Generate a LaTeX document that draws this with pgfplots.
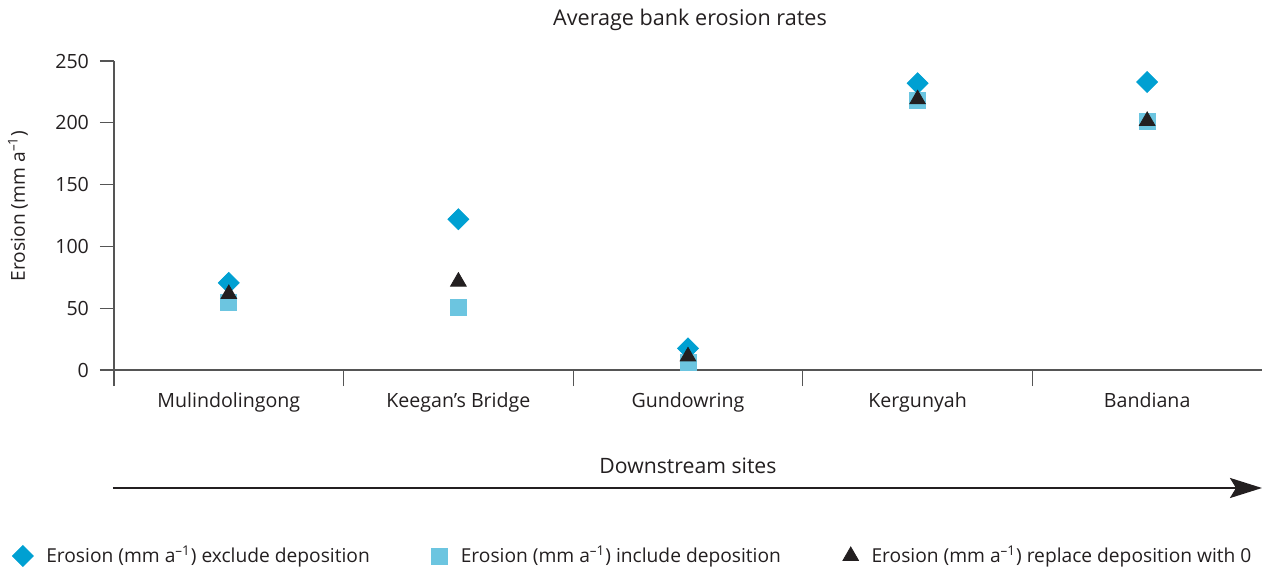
\documentclass[border=0pt]{standalone}
\usepackage{fontspec}
\setmainfont{Open Sans}
\usepackage{pgfplots}
\pgfplotsset{compat=1.18}
\usetikzlibrary{arrows.meta}
\definecolor{dia}{RGB}{0,160,210}
\definecolor{sq}{RGB}{108,197,224}
\definecolor{tri}{RGB}{35,31,32}
\definecolor{axc}{RGB}{85,85,85}
\definecolor{txt}{RGB}{35,31,32}
\begin{document}
\begin{tikzpicture}
\path (-57pt,-99pt) rectangle (578.5pt,185pt);
\begin{axis}[
  scale only axis,
  width=574pt, height=154.5pt,
  at={(0,0)}, anchor=south west,
  xmin=-0.5, xmax=4.5,
  ymin=0, ymax=250,
  axis lines=left,
  axis line style={-, axc, line width=0.6pt},
  xtick={0,1,2,3,4},
  xticklabels={Mulindolingong, Keegan’s Bridge, Gundowring, Kergunyah, Bandiana},
  minor xtick={-0.5,0.5,1.5,2.5,3.5},
  ytick={0,50,100,150,200,250},
  tick align=outside,
  major tick length=7pt,
  minor tick length=8pt,
  x tick style={draw=none},
  minor x tick style={draw=axc, line width=0.6pt},
  y tick style={axc, line width=0.6pt},
  tick label style={font=\fontsize{9.8}{12}\selectfont, text=txt},
  xticklabel style={anchor=base, yshift=-11.5pt},
  yticklabel style={anchor=east, xshift=-2pt},
  /pgf/number format/assume math mode=true,
  clip=false,
  legend columns=3,
  legend style={
    at={(axis description cs:-0.0889,-0.602)}, anchor=west,
    draw=none, inner sep=0pt, fill=none,
    font=\fontsize{9.6}{12}\selectfont, text=txt,
    nodes={inner sep=0pt},
    /tikz/every odd column/.append style={column sep=6.5pt},
    /tikz/every even column/.append style={column sep=31pt},
  },
  legend image code/.code={\draw[#1] plot coordinates {(0pt,0pt)};},
]
\addplot[only marks, mark=square*, mark size=3.7pt, mark options={rotate=45, fill=dia, draw=dia}]
 coordinates {(0,70.5) (1,122) (2,17.5) (3,232) (4,233)};
\addlegendentry{Erosion (mm a\textsuperscript{–1}) exclude deposition}
\addplot[only marks, mark=square*, mark size=4pt, mark options={fill=sq, draw=sq}]
 coordinates {(0,55) (1,51) (2,6) (3,218) (4,201)};
\addlegendentry{Erosion (mm a\textsuperscript{–1}) include deposition}
\addplot[only marks, mark=triangle*, mark size=4.5pt, mark options={fill=tri, draw=tri}]
 coordinates {(0,61.5) (1,71.5) (2,11) (3,219) (4,201.5)};
\addlegendentry{Erosion (mm a\textsuperscript{–1}) replace deposition with 0}
\end{axis}
\node[text=txt, font=\fontsize{10.8}{13}\selectfont] at (288pt,175pt) {Average bank erosion rates};
\node[text=txt, font=\fontsize{9.6}{12}\selectfont, rotate=90] at (-48pt,82pt) {Erosion (mm a\textsuperscript{–1})};
\node[text=txt, font=\fontsize{10.6}{13}\selectfont] at (287pt,-48pt) {Downstream sites};
\draw[tri, line width=1.3pt, -{Stealth[length=16pt, width=10pt, inset=3pt]}] (-0.5pt,-59pt) -- (574pt,-59pt);
\end{tikzpicture}
\end{document}
